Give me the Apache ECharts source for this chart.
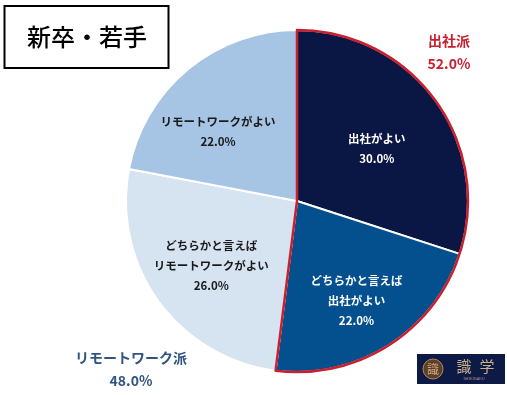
<!DOCTYPE html>
<html>
<head>
<meta charset="utf-8">
<style>
  html, body { margin: 0; padding: 0; background: #fff; }
  #chart { width: 507px; height: 395px; }
</style>
<script src="https://cdn.jsdelivr.net/npm/echarts@6/dist/echarts.min.js"></script>
</head>
<body>
<div id="chart"></div>
<script>
var sliceNames = ['出社がよい', 'どちらかと言えば\n出社がよい', 'どちらかと言えば\nリモートワークがよい', 'リモートワークがよい']
var sliceValues = [30, 22, 26, 22]
var sliceColors = ['#0a1744', '#04508f', '#d6e3f1', '#a6c4e4']
var sliceTextColors = ['#ffffff', '#ffffff', '#1a1a1a', '#1a1a1a']
var groupNames = ['出社派', 'リモートワーク派']
var groupValues = [52, 48]
var titleText = '新卒・若手'

var font = '"Noto Sans CJK JP", sans-serif'
var center = [297, 201]
var radius = 171
// ラベルの微調整
var labelShift = [[-4, 8], [4, 12], [-2, 4], [-13, 10]]

var chart = echarts.init(document.getElementById('chart'), null, { renderer: 'canvas' })

chart.setOption({
  animation: false,
  backgroundColor: '#ffffff',
  series: [
    {
      type: 'pie',
      center: center,
      radius: [0, radius],
      startAngle: 90,
      clockwise: true,
      silent: true,
      data: sliceNames.map(function(n, i) {
        return { name: n, value: sliceValues[i], itemStyle: { color: sliceColors[i] } }
      }),
      itemStyle: { borderColor: '#ffffff', borderWidth: 2 },
      label: { show: false }
    },
    {
      // 出社派の赤枠
      type: 'pie',
      center: center,
      radius: [0, radius],
      startAngle: 90,
      silent: true,
      z: 3,
      data: groupNames.map(function(n, i) {
        return {
          name: n,
          value: groupValues[i],
          itemStyle: i === 0
            ? { color: 'rgba(0,0,0,0)', borderColor: '#c8202f', borderWidth: 2.5 }
            : { color: 'rgba(0,0,0,0)', borderWidth: 0 }
        }
      }),
      label: { show: false }
    },
    {
      // ラベル用
      type: 'pie',
      center: center,
      radius: [30, radius],
      startAngle: 90,
      silent: true,
      z: 4,
      itemStyle: { color: 'rgba(0,0,0,0)' },
      data: sliceNames.map(function(n, i) {
        return {
          name: n,
          value: sliceValues[i],
          label: { color: sliceTextColors[i] }
        }
      }),
      label: {
        show: true,
        position: 'inside',
        fontFamily: font,
        fontSize: 11.5,
        fontWeight: 'bold',
        lineHeight: 20,
        align: 'center',
        formatter: function(p) {
          return p.name + '\n' + p.value.toFixed(1) + '%'
        }
      },
      labelLayout: function(p) {
        var s = labelShift[p.dataIndex]
        return { dx: s[0], dy: s[1] }
      }
    }
  ],
  graphic: [
    {
      type: 'rect',
      shape: { x: 4.5, y: 6, width: 164, height: 62 },
      style: { fill: '#ffffff', stroke: '#000000', lineWidth: 2 }
    },
    {
      type: 'text',
      x: 87,
      y: 37,
      style: { text: titleText, font: '500 24px ' + font, fill: '#000000', align: 'center', verticalAlign: 'middle' }
    },
    {
      type: 'text',
      x: 449,
      y: 41,
      style: { text: groupNames[0], font: 'bold 14px ' + font, fill: '#c8202f', align: 'center', verticalAlign: 'middle' }
    },
    {
      type: 'text',
      x: 449,
      y: 64,
      style: { text: groupValues[0].toFixed(1) + '%', font: 'bold 14px ' + font, fill: '#c8202f', align: 'center', verticalAlign: 'middle' }
    },
    {
      type: 'text',
      x: 131,
      y: 358,
      style: { text: groupNames[1], font: 'bold 14px ' + font, fill: '#2f5480', align: 'center', verticalAlign: 'middle' }
    },
    {
      type: 'text',
      x: 131,
      y: 381,
      style: { text: groupValues[1].toFixed(1) + '%', font: 'bold 14px ' + font, fill: '#2f5480', align: 'center', verticalAlign: 'middle' }
    },
    // ロゴ
    {
      type: 'rect',
      shape: { x: 417, y: 354, width: 88, height: 30 },
      style: { fill: '#0d1a45' }
    },
    {
      type: 'circle',
      shape: { cx: 433, cy: 369, r: 10 },
      style: { fill: '#5a3f2c', stroke: '#b08a5e', lineWidth: 1 }
    },
    {
      type: 'text',
      x: 433,
      y: 369,
      style: { text: '識', font: '12px ' + font, fill: '#d0a878', align: 'center', verticalAlign: 'middle' }
    },
    {
      type: 'text',
      x: 464,
      y: 366,
      style: { text: '識', font: '15px ' + font, fill: '#c9b08a', align: 'center', verticalAlign: 'middle' }
    },
    {
      type: 'text',
      x: 487,
      y: 366,
      style: { text: '学', font: '15px ' + font, fill: '#c9b08a', align: 'center', verticalAlign: 'middle' }
    },
    {
      type: 'text',
      x: 474,
      y: 379,
      style: { text: 'SHIKIGAKU', font: '4px "Noto Sans", sans-serif', fill: '#a89a80', align: 'center', verticalAlign: 'middle' }
    }
  ]
})
</script>
</body>
</html>
